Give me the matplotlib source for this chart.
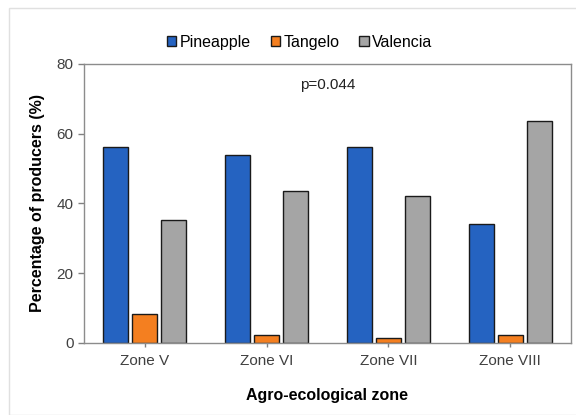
import matplotlib
matplotlib.use("Agg")
import matplotlib.pyplot as plt
import numpy as np
from matplotlib.patches import Rectangle

plt.rcParams['font.family'] = ['Liberation Sans', 'DejaVu Sans']

zones = ['Zone V', 'Zone VI', 'Zone VII', 'Zone VIII']
pineapple = [56.2, 53.9, 56.2, 34.1]
tangelo = [8.3, 2.3, 1.5, 2.2]
valencia = [35.3, 43.7, 42.2, 63.7]

series = [('Pineapple', pineapple, '#2563c1'),
          ('Tangelo', tangelo, '#f47f20'),
          ('Valencia', valencia, '#a5a5a5')]

fig = plt.figure(figsize=(5.76, 4.15), dpi=100)
ax = fig.add_axes([0.1458, 0.1735, 0.8455, 0.6723])

# light frame round the whole chart
fig.patches.append(Rectangle((9 / 576, 0), 1, 1 - 8 / 415, transform=fig.transFigure,
                             fill=False, edgecolor='#e0e0e0', linewidth=1))

x = np.arange(len(zones))
width = 0.205
step = 0.238
for i, (name, vals, col) in enumerate(series):
    ax.bar(x + (i - 1) * step, vals, width, color=col, edgecolor='#1a1a1a',
           linewidth=1, label=name)

ax.set_xlim(-0.5, len(zones) - 0.5)
ax.set_ylim(0, 80)
ax.set_yticks([0, 20, 40, 60, 80])
ax.set_xticks(x)
ax.set_xticklabels(zones)
ax.tick_params(axis='both', labelsize=11, colors='#808080', labelcolor='#404040',
               length=4, width=1)
ax.tick_params(axis='x', length=3, pad=5)
for sp in ax.spines.values():
    sp.set_color('#8c8c8c')
    sp.set_linewidth(1)

ax.set_ylabel('Percentage of producers (%)', fontsize=11.5, fontweight='bold', labelpad=8)
ax.set_xlabel('Agro-ecological zone', fontsize=11.5, fontweight='bold', labelpad=14)

ax.text(0.5, 0.925, 'p=0.044', transform=ax.transAxes, ha='center', va='center',
        fontsize=11, color='#222222')

fig.legend(loc='center', bbox_to_anchor=(0.52, 0.898), ncol=3, frameon=False,
           fontsize=11.5, handlelength=0.6, handleheight=0.6, handletextpad=0.2,
           columnspacing=1.25)

fig.savefig('out.png', dpi=100, facecolor='white')
